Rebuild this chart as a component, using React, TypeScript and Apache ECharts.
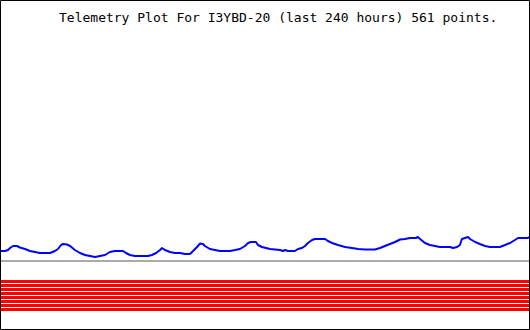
import React, { useEffect, useRef } from "react";
import * as echarts from "echarts";

const TITLE = "Telemetry Plot For I3YBD-20 (last 240 hours) 561 points.";

// hours since start of window
const hours = [
  0, 1.8, 3.2, 4.1, 5.5, 7.3, 8.6, 10.9, 13.2, 15.5, 17.7, 22.3, 24.5, 25.9, 27.3, 28.2, 30, 31.4, 33.6, 35.9,
  38.2, 40.5, 42.7, 45, 47.3, 49.5, 51.8, 55.5, 56.8, 58.6, 60.9, 66.8, 68.6, 70.5, 72.3, 73.2, 74.5, 76.8, 79.1,
  81.4, 83.6, 85.9, 87.3, 89.1, 90.5, 91.8, 92.7, 95, 97.3, 99.5, 104.1, 106.4, 108.6, 110.9, 112.3, 113.6, 115.9,
  116.8, 118.6, 120.5, 122.3, 126.8, 128.2, 129.1, 130.5, 133.6, 135, 136.8, 138.2, 139.5, 141.4, 142.7, 147.3,
  148.6, 150.5, 153.2, 156.4, 159.5, 162.3, 165.5, 170, 172.3, 174.5, 176.8, 179.1, 181.4, 183.6, 185.9, 188.6,
  189.5, 190.5, 192.7, 195, 197.3, 199.5, 204.1, 205.5, 207.3, 208.6, 209.5, 210.9, 212.3, 213.2, 215.5, 217.7,
  220, 222.3, 226.8, 229.1, 231.4, 233.6, 235, 239.5, 240,
];

// blue telemetry channel
const blueValues = [
  79, 79, 80, 82, 84, 84, 82.5, 81, 79, 78, 77, 77, 79, 81, 85, 86, 85.5, 84, 80, 77,
  75, 74, 73, 74, 75, 78, 79, 79, 77, 75, 74, 74, 75, 77, 80, 82, 80, 78, 77,
  77, 76, 76, 79, 83, 86.5, 86, 84, 81, 80, 79, 79, 80, 81, 84, 87, 88, 88,
  85, 83, 82, 81, 80, 79, 80, 79, 79, 81, 82, 84, 87, 90, 91, 91,
  89, 87, 85, 83, 82, 81, 80.5, 80.5, 82, 84, 86, 88, 90.5, 91, 92, 92,
  93, 91, 87, 85, 84, 83, 83, 82, 83, 85, 91, 92, 93, 91, 88, 86,
  84, 83, 83, 85, 87, 90, 92, 92, 93,
];

// gray reference channel
const grayValue = 69;

// red digital channels (constant levels)
const redLevels = [48.5, 44.5, 40.5, 36.5, 32.5, 28.5, 24.5, 20.5];

const X_MIN = 0;
const X_MAX = 240;
const Y_MIN = 0;
const Y_MAX = 330;

export default function App() {
  const ref = useRef<HTMLDivElement>(null);

  useEffect(() => {
    document.body.style.margin = "0";
    if (!ref.current) return;
    const chart = echarts.init(ref.current, undefined, { renderer: "svg" });

    const blueData = hours.map((h, i) => [h, blueValues[i]]);
    const flat = (v: number) => [
      [X_MIN, v],
      [X_MAX, v],
    ];

    const series: any[] = [];
    redLevels.forEach((lv, i) => {
      series.push({
        type: "line",
        name: "bit" + (i + 1),
        data: flat(lv),
        symbol: "none",
        lineStyle: { color: "#ff0000", width: 3 },
        silent: true,
      });
    });
    series.push({
      type: "line",
      name: "ref",
      data: flat(grayValue),
      symbol: "none",
      lineStyle: { color: "#aaaaaa", width: 2 },
      silent: true,
    });
    series.push({
      type: "line",
      name: "value",
      data: blueData,
      symbol: "none",
      lineStyle: { color: "#0000ff", width: 2 },
      silent: true,
    });

    chart.setOption({
      animation: false,
      backgroundColor: "#ffffff",
      title: {
        text: TITLE,
        left: 54,
        top: 6,
        textStyle: {
          fontFamily: "DejaVu Sans Mono",
          fontSize: 13,
          fontWeight: "normal",
          color: "#000000",
        },
      },
      grid: { left: 1, right: 1, top: 0, bottom: 0, containLabel: false },
      xAxis: {
        type: "value",
        min: X_MIN,
        max: X_MAX,
        show: false,
        splitLine: { show: false },
      },
      yAxis: {
        type: "value",
        min: Y_MIN,
        max: Y_MAX,
        show: false,
        splitLine: { show: false },
      },
      series,
      graphic: [
        {
          type: "rect",
          shape: { x: 0.5, y: 0.5, width: 529, height: 329 },
          style: { fill: "none", stroke: "#000000", lineWidth: 1 },
          z: 100,
          silent: true,
        },
      ],
    });

    return () => chart.dispose();
  }, []);

  return <div ref={ref} style={{ width: 530, height: 330 }} />;
}
